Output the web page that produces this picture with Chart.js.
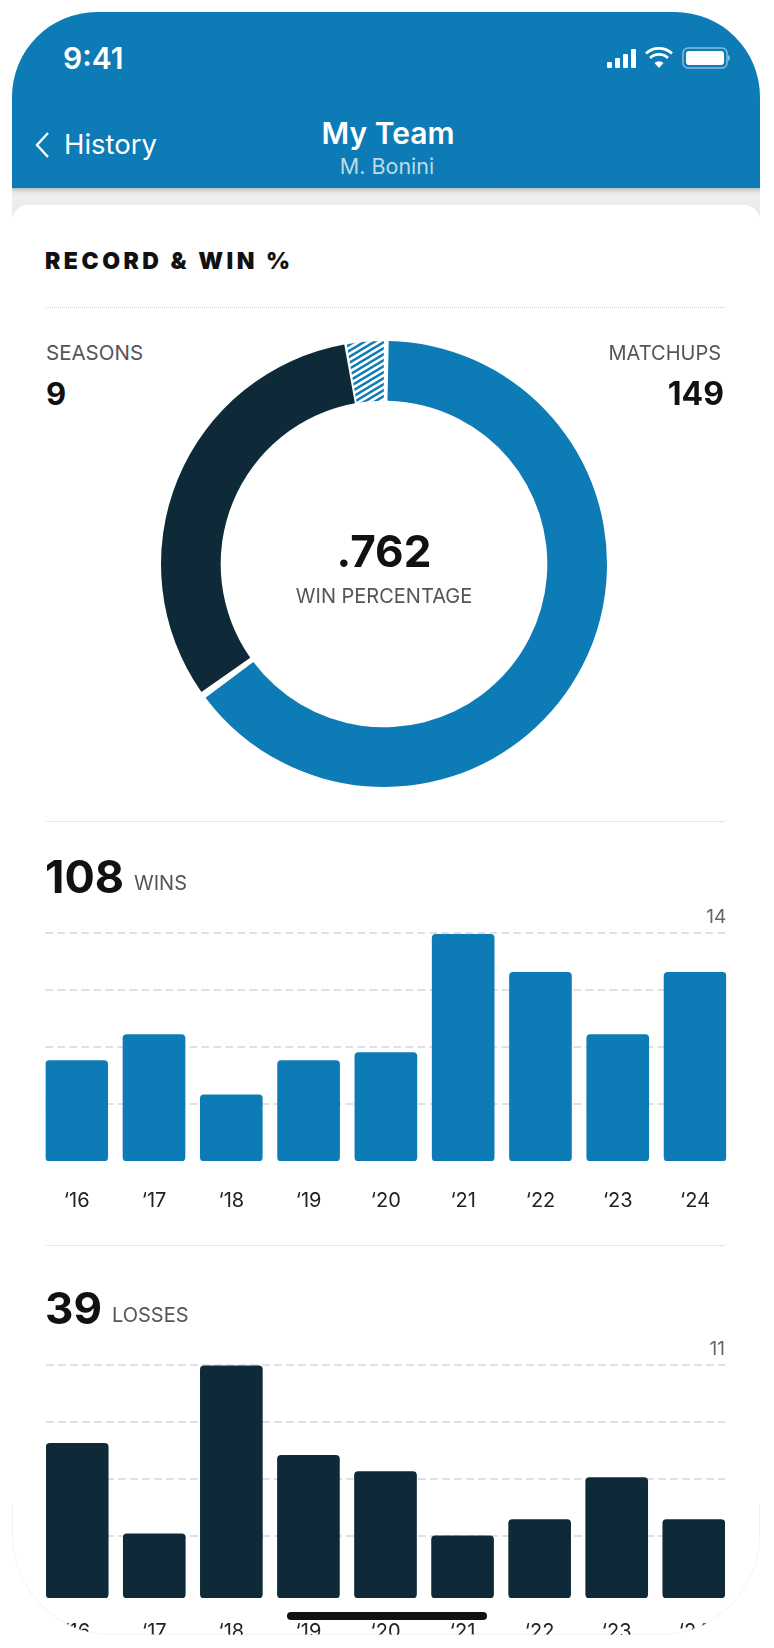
<!DOCTYPE html>
<html>
<head>
<meta charset="utf-8">
<title>My Team</title>
<script src="https://cdn.jsdelivr.net/npm/chart.js@4"></script>
<style>
  html, body { margin: 0; padding: 0; background: #fff; width: 774px; height: 1648px; overflow: hidden; }
  body { font-family: Inter, "Noto Sans", sans-serif; color: #111; position: relative; }
  .abs { position: absolute; white-space: nowrap; line-height: 1; }
  #phone { position: absolute; left: 12px; top: 12px; width: 748px; height: 1623px; overflow: hidden;
           border-radius: 85px 85px 100px 100px; background: #fff; }
  #header { position: absolute; left: 0; top: 0; width: 748px; height: 176px; background: #0d7bb5; }
  #strip { position: absolute; left: 0; top: 176px; width: 748px; height: 34px;
           background: linear-gradient(#b9bdc0 0, #e4e5e6 4px, #eeeeee 8px, #e9e9e9 100%); }
  #card { position: absolute; left: 0; top: 193px; width: 748px; height: 1430px; background: #fff; border-radius: 16px 16px 0 0; }
  .sep { position: absolute; left: 34px; width: 679px; height: 0; border-top: 1px dotted #cfcfcf; }
  canvas { position: absolute; }
  .label { color: #555; font-size: 20px; }
  .stat { font-weight: 700; }
  #rim { position: absolute; left: 12px; top: 1505px; width: 746px; height: 129px; border: 1px dotted #e6e6e6; border-top: 0;
         border-radius: 0 0 100px 100px; }
  #homebar { position: absolute; left: 287px; top: 1612px; width: 200px; height: 8px; border-radius: 4px; background: #111; }
</style>
</head>
<body>
<div id="phone">
  <div id="header"></div>
  <div id="strip"></div>
  <div id="card"></div>
  <div class="sep" style="top:295px"></div>
  <div class="sep" style="top:809px"></div>
  <div class="sep" style="top:1233px"></div>
  <canvas id="ringChart" style="left:147px;top:327px"></canvas>
  <canvas id="winsChart" style="left:32px;top:889px"></canvas>
  <canvas id="lossChart" style="left:34px;top:1321px"></canvas>
</div>

<div class="abs" style="left:63px;top:43px;font-size:30px;font-weight:600;color:#fff">9:41</div>
<svg class="abs" style="left:605px;top:44px" width="125" height="26" viewBox="0 0 125 26">
  <g fill="#fff">
    <rect x="2" y="18" width="5" height="6" rx="1"/><rect x="10" y="14" width="5" height="10" rx="1"/>
    <rect x="18" y="10" width="5" height="14" rx="1"/><rect x="26" y="5" width="5" height="19" rx="1"/>
    <rect x="81" y="7" width="38" height="14" rx="3"/>
    <path d="M123 11v6c1.5-.5 2-1.500 2-3s-.5-2.500-2-3z" opacity=".5"/>
    <path d="M54 24l-4.500-5a6.500 6.500 0 0 1 9 0z"/>
  </g>
  <g fill="none" stroke="#fff" stroke-width="2.600">
    <path d="M45 14a13 13 0 0 1 18 0"/><path d="M41 9.500a19 19 0 0 1 26 0"/>
  </g>
  <rect x="78" y="4" width="44" height="20" rx="5" fill="none" stroke="#fff" stroke-opacity=".5" stroke-width="1.500"/>
</svg>
<svg class="abs" style="left:33px;top:130px" width="20" height="30" viewBox="0 0 20 30">
  <path d="M15 3L4 15l11 12" fill="none" stroke="#fff" stroke-width="2.400"/>
</svg>
<div class="abs" style="left:64px;top:131px;font-size:27.500px;color:#fff">History</div>
<div class="abs" style="left:0;width:776px;top:118px;text-align:center;font-size:30px;font-weight:600;color:#fff">My Team</div>
<div class="abs" style="left:0;width:774px;top:156px;text-align:center;font-size:21.500px;color:#bcdaea">M. Bonini</div>

<div class="abs" style="left:45px;top:250px;font-size:23px;font-weight:900;letter-spacing:3.500px">RECORD &amp; WIN %</div>
<div class="abs label" style="left:46px;top:343px;font-size:20.500px">SEASONS</div>
<div class="abs stat" id="seasonsText" style="left:46px;top:378px;font-size:31px"></div>
<div class="abs label" style="right:53px;top:343px;font-size:20px">MATCHUPS</div>
<div class="abs stat" id="matchupsText" style="right:50px;top:378px;font-size:32px"></div>
<div class="abs stat" id="pctText" style="left:0;width:768px;top:529px;text-align:center;font-size:44px"></div>
<div class="abs label" style="left:0;width:768px;top:586px;text-align:center">WIN PERCENTAGE</div>

<div class="abs stat" id="winsText" style="left:45px;top:854px;font-size:45px"></div>
<div class="abs label" style="left:134px;top:873px">WINS</div>
<div class="abs stat" id="lossText" style="left:45px;top:1286px;font-size:44px"></div>
<div class="abs label" style="left:112px;top:1305px">LOSSES</div>

<div id="rim"></div>
<div id="homebar"></div>

<script>
const seasons = 9;
const matchups = 149;
const winPct = ".762";
const totalWins = 108;
const totalLosses = 39;

// slices: wins, losses, ties
const ringValues = [97, 48, 4];

const years = ["‘16", "‘17", "‘18", "‘19", "‘20", "‘21", "‘22", "‘23", "‘24"];
const winsValues = [6.16, 7.76, 4.06, 6.16, 6.65, 13.92, 11.58, 7.76, 11.58];
const lossValues = [7.3, 3.03, 10.96, 6.73, 5.97, 2.94, 3.7, 5.69, 3.7];
const winsTicks = [3.5, 7, 10.5, 14];
const lossTicks = [2.93, 5.62, 8.31, 11];

const BLUE = "#0d7bb5";
const NAVY = "#0e2a38";

document.getElementById("seasonsText").textContent = seasons;
document.getElementById("matchupsText").textContent = matchups;
document.getElementById("pctText").textContent = winPct;
document.getElementById("winsText").textContent = totalWins;
document.getElementById("lossText").textContent = totalLosses;

function hatchPattern() {
  const tile = document.createElement("canvas");
  tile.width = 10;
  tile.height = 6;
  const c = tile.getContext("2d");
  c.fillStyle = "#fff";
  c.fillRect(0, 0, 10, 6);
  c.strokeStyle = BLUE;
  c.lineWidth = 2.4;
  [-6, 0, 6].forEach((off) => {
    c.beginPath();
    c.moveTo(-1, 6.6 + off);
    c.lineTo(11, -0.6 + off);
    c.stroke();
  });
  return c.createPattern(tile, "repeat");
}

function sizeCanvas(id, w, h) {
  const el = document.getElementById(id);
  el.width = w;
  el.height = h;
  el.style.width = w + "px";
  el.style.height = h + "px";
  return el.getContext("2d");
}

new Chart(sizeCanvas("ringChart", 450, 450), {
  type: "doughnut",
  data: {
    labels: ["Wins", "Losses", "Ties"],
    datasets: [
      {
        data: ringValues,
        backgroundColor: [BLUE, NAVY, hatchPattern()],
        borderWidth: 0,
        spacing: 4,
      },
    ],
  },
  options: {
    responsive: false,
    animation: false,
    cutout: "73%",
    layout: { padding: 2 },
    plugins: { legend: { display: false }, tooltip: { enabled: false } },
  },
});

function barChart(id, width, height, labelGap, values, tickValues, color, topValue) {
  return new Chart(sizeCanvas(id, width, height), {
    type: "bar",
    data: {
      datasets: [
        {
          data: values.map((v, i) => ({ x: i, y: v })),
          backgroundColor: color,
          barThickness: 62,
          borderRadius: 4,
          borderSkipped: false,
        },
      ],
    },
    options: {
      responsive: false,
      animation: false,
      layout: { padding: { top: 32 } },
      plugins: { legend: { display: false }, tooltip: { enabled: false } },
      scales: {
        x: {
          type: "linear",
          offset: false,
          min: -0.405,
          max: 8.405,
          border: { display: false },
          grid: { display: false },
          afterBuildTicks: (axis) => {
            axis.ticks = years.map((y, i) => ({ value: i }));
          },
          ticks: {
            autoSkip: false,
            maxRotation: 0,
            padding: labelGap,
            color: "#222",
            font: { family: "Inter", size: 20 },
            callback: (v) => years[v],
          },
        },
        y: {
          position: "right",
          min: 0,
          max: topValue,
          border: { display: false, dash: [8, 4] },
          afterBuildTicks: (axis) => {
            axis.ticks = tickValues.map((v) => ({ value: v }));
          },
          grid: { color: "#dde1e4", lineWidth: 2, drawTicks: false },
          ticks: {
            mirror: true,
            padding: 0,
            labelOffset: -16,
            color: "#666",
            font: { family: "Inter", size: 19 },
            callback: (v) => (v === topValue ? String(v) : ""),
          },
        },
      },
    },
  });
}

barChart("winsChart", 686, 332, 20, winsValues, winsTicks, BLUE, 14);
barChart("lossChart", 679, 325, 14, lossValues, lossTicks, NAVY, 11);
</script>
</body>
</html>
